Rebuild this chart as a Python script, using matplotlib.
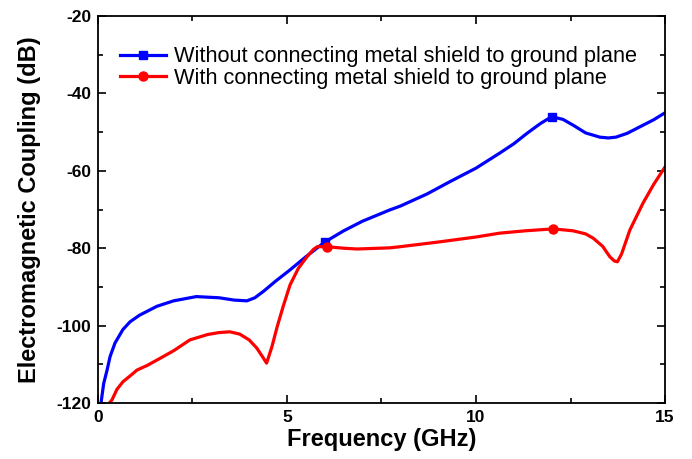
import numpy as np
import matplotlib
matplotlib.use("Agg")
from matplotlib import pyplot as plt
from matplotlib.ticker import MultipleLocator

plt.rcParams['font.family'] = ['Liberation Sans', 'DejaVu Sans']
plt.rcParams['axes.unicode_minus'] = False

# values (GHz, dB)
f_blue = [0.08, 0.15, 0.24, 0.32, 0.45, 0.66, 0.85, 1.1, 1.56, 2.0, 2.6, 3.2,
          3.6, 3.94, 4.15, 4.37, 4.7, 5.08, 5.5, 6.0, 6.5, 7.0, 7.72, 8.0,
          8.7, 9.31, 10.0, 10.63, 11.0, 11.35, 11.7, 12.0, 12.3, 12.57,
          12.9, 13.28, 13.5, 13.7, 14.0, 14.34, 14.7, 15.0]
v_blue = [-120, -115, -111.5, -108, -104.5, -101, -99, -97.3, -95, -93.6, -92.5,
          -92.8, -93.4, -93.6, -92.8, -91.2, -88.5, -85.6, -82.2, -78.4, -75.5,
          -73, -70.1, -69.1, -66, -62.8, -59.3, -55.4, -53, -50.3, -47.8, -46,
          -46.7, -48.2, -50.2, -51.3, -51.5, -51.3, -50.3, -48.6, -46.8, -45]

f_red = [0.3, 0.37, 0.5, 0.66, 0.85, 1.03, 1.3, 1.56, 2.0, 2.43, 2.9, 3.2, 3.49,
         3.75, 4.0, 4.2, 4.35, 4.46, 4.6, 4.74, 4.9, 5.08, 5.3, 5.53, 5.7, 5.8,
         6.06, 6.5, 6.85, 7.72, 8.0, 9.0, 10.0, 10.63, 11.3, 12.04, 12.57,
         12.9, 13.1, 13.35, 13.54, 13.66, 13.74, 13.85, 14.07, 14.42, 14.7, 15.0]
v_red = [-120, -119.2, -116.5, -114.5, -113, -111.5, -110.3, -108.9, -106.5,
         -103.7, -102.3, -101.8, -101.6, -102.2, -103.7, -105.8, -108, -109.7,
         -105.5, -100.3, -95, -89.5, -85.2, -82.2, -80.3, -79.6, -79.6, -80.0,
         -80.2, -79.9, -79.6, -78.4, -77.1, -76.1, -75.5, -75, -75.5, -76.3,
         -77.4, -79.5, -82.2, -83.3, -83.5, -81.5, -75.3, -68.3, -63.5, -59]

mark_f = [6.0, 12.0]


def mark_idx(fs):
    return [int(np.argmin(np.abs(np.array(fs) - m))) for m in mark_f]


fig = plt.figure(figsize=(6.92, 4.59), dpi=100)
ax = fig.add_axes([0.1416, 0.122, 0.8194, 0.843])

ax.plot(f_blue, v_blue, color='#0000ff', lw=2.3, marker='s', ms=6,
        markevery=mark_idx(f_blue),
        label='Without connecting metal shield to ground plane')
ax.plot(f_red, v_red, color='#ff0000', lw=2.3, marker='o', ms=6.5,
        markevery=mark_idx(f_red),
        label='With connecting metal shield to ground plane')

ax.set_xlim(0, 15)
ax.set_ylim(-120, -20)
ax.xaxis.set_major_locator(MultipleLocator(5))
ax.xaxis.set_minor_locator(MultipleLocator(2.5))
ax.yaxis.set_major_locator(MultipleLocator(20))
ax.yaxis.set_minor_locator(MultipleLocator(10))
ax.tick_params(which='both', direction='in', top=True, right=True, width=1.2)
ax.tick_params(which='major', length=6, labelsize=12.5, pad=5)
ax.tick_params(which='minor', length=3.5)
for lab in ax.get_xticklabels() + ax.get_yticklabels():
    lab.set_fontweight('bold')
for s in ax.spines.values():
    s.set_linewidth(1.3)

ax.set_xlabel('Frequency (GHz)', fontsize=17, fontweight='bold', labelpad=2)
ax.set_ylabel('Electromagnetic Coupling (dB)', fontsize=17, fontweight='bold', labelpad=11)

ax.legend(loc='upper left', bbox_to_anchor=(0.039, 0.922), frameon=False,
          fontsize=15.7, handlelength=2.1, handletextpad=0.35, labelspacing=0.03,
          borderaxespad=0, borderpad=0)

fig.savefig('out.png', dpi=100)
